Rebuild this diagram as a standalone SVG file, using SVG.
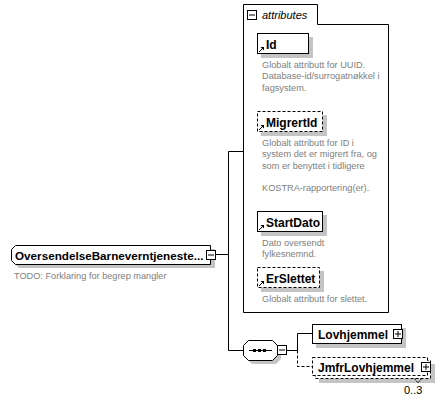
<svg xmlns="http://www.w3.org/2000/svg" width="445" height="403" viewBox="0 0 445 403">
  <defs>
    <style>
      .box{fill:#fff;stroke:#000;stroke-width:1}
      .dash{stroke-dasharray:3,2}
      .shadow{fill:#c4c4c4;stroke:none}
      .name{font-family:"Liberation Sans",Arial,sans-serif;font-weight:bold;font-size:12px;fill:#000}
      .doc{font-family:"Liberation Sans",Arial,sans-serif;font-size:9.2px;fill:#808080}
      .line{stroke:#000;stroke-width:1;fill:none}
      .btn{fill:#fff;stroke:#000;stroke-width:1}
      .occ{font-family:"Liberation Sans",Arial,sans-serif;font-size:11px;fill:#000}
    </style>
    <!-- small reference arrow drawn in the bottom-left corner of an attribute box -->
    <g id="refArrow">
      <path d="M0,5 L4,1" stroke="#000" stroke-width="1" fill="none"/>
      <path d="M1.5,0 L5,0 L5,3.5 Z" fill="#000"/>
    </g>
  </defs>

  <!-- connectors -->
  <g id="connectors">
    <path class="line" d="M215.5,254.5 H228.5"/>
    <path class="line" d="M228.5,151.5 V350.5"/>
    <path class="line" d="M228.5,151.5 H243.5"/>
    <path class="line" d="M228.5,350.5 H243.5"/>
    <path class="line" d="M286.5,350.5 H297.5 V333.5 H312.5"/>
    <path class="line dash" d="M297.5,350.5 V366.5 H312.5"/>
  </g>

  <!-- root element -->
  <g id="OversendelseBarneverntjeneste">
    <path class="shadow" d="M19,249 H215 V268 H19 L15,264 V253 Z"/>
    <path class="box" d="M15.5,245.5 H210.5 V264.5 H15.5 L11.5,260.5 V249.5 Z"/>
    <text class="name" x="15" y="259.5" style="font-size:11.7px">OversendelseBarneverntjeneste...</text>
    <rect class="btn" x="206.5" y="250.5" width="9" height="9"/>
    <path class="line" d="M208,255 H214"/>
    <text class="doc" x="14" y="279">TODO: Forklaring for begrep mangler</text>
  </g>

  <!-- attribute group -->
  <g id="attributes">
    <path class="box" d="M243.5,312.5 V4.5 H317.5 V24.5 H388.5 V312.5 Z"/>
    <rect class="btn" x="247.5" y="10.5" width="9" height="9"/>
    <path class="line" d="M249,15 H255"/>
    <text x="262" y="19" style="font-family:'Liberation Sans',Arial,sans-serif;font-style:italic;font-size:11px;fill:#000">attributes</text>
  </g>

  <g id="attr-Id">
    <rect class="shadow" x="261" y="37" width="52" height="21"/>
    <rect class="box" x="257.5" y="33.5" width="51" height="20"/>
    <use href="#refArrow" x="259" y="47"/>
    <text class="name" x="266" y="48.5">Id</text>
    <text class="doc" x="262" y="67.5">Globalt attributt for UUID.</text>
    <text class="doc" x="262" y="79">Database-id/surrogatnøkkel i</text>
    <text class="doc" x="262" y="90.5">fagsystem.</text>
  </g>

  <g id="attr-MigrertId">
    <rect class="shadow" x="261" y="115" width="66" height="21"/>
    <rect class="box dash" x="257.5" y="111.5" width="65" height="20"/>
    <use href="#refArrow" x="259" y="125"/>
    <text class="name" x="266" y="126.5">MigrertId</text>
    <text class="doc" x="262" y="146">Globalt attributt for ID i</text>
    <text class="doc" x="262" y="157.3">system det er migrert fra, og</text>
    <text class="doc" x="262" y="168.6">som er benyttet i tidligere</text>
    <text class="doc" x="262" y="191.2">KOSTRA-rapportering(er).</text>
  </g>

  <g id="attr-StartDato">
    <rect class="shadow" x="261" y="215" width="66" height="21"/>
    <rect class="box" x="257.5" y="211.5" width="65" height="20"/>
    <use href="#refArrow" x="259" y="225"/>
    <text class="name" x="266" y="226.5">StartDato</text>
    <text class="doc" x="262" y="246">Dato oversendt</text>
    <text class="doc" x="262" y="257.3">fylkesnemnd.</text>
  </g>

  <g id="attr-ErSlettet">
    <rect class="shadow" x="261" y="271" width="63" height="21"/>
    <rect class="box dash" x="257.5" y="267.5" width="62" height="20"/>
    <use href="#refArrow" x="259" y="281"/>
    <text class="name" x="266" y="282.5">ErSlettet</text>
    <text class="doc" x="262" y="302">Globalt attributt for slettet.</text>
  </g>

  <!-- sequence compositor -->
  <g id="sequence">
    <path class="shadow" d="M252,344 H276 L281,349 V359 L276,364 H252 L247,359 V349 Z"/>
    <path class="box" d="M248.5,340.5 H272.5 L277.5,345.5 V355.5 L272.5,360.5 H248.5 L243.5,355.5 V345.5 Z"/>
    <path class="line" d="M249,350.5 H272"/>
    <rect x="253" y="349" width="3" height="3" fill="#000"/>
    <rect x="258" y="349" width="3" height="3" fill="#000"/>
    <rect x="263" y="349" width="3" height="3" fill="#000"/>
    <rect class="btn" x="277.5" y="345.5" width="9" height="9"/>
    <path class="line" d="M279,350 H285"/>
  </g>

  <g id="Lovhjemmel">
    <rect class="shadow" x="316" y="328" width="90" height="20"/>
    <rect class="box" x="312.5" y="324.5" width="89" height="19"/>
    <text class="name" x="318" y="339">Lovhjemmel</text>
    <rect class="btn" x="393.5" y="329.5" width="9" height="9"/>
    <path class="line" d="M395,334 H401 M398,331 V337"/>
  </g>

  <g id="JmfrLovhjemmel">
    <rect class="shadow" x="319" y="364" width="116" height="19"/>
    <rect class="box dash" x="315.5" y="360.5" width="115" height="18"/>
    <rect class="box dash" x="312.5" y="357.5" width="115" height="18"/>
    <text class="name" x="318" y="372">JmfrLovhjemmel</text>
    <rect class="btn" x="421.5" y="362.5" width="9" height="9"/>
    <path class="line" d="M423,367 H429 M426,364 V370"/>
    <path class="line dash" d="M414.5,378.5 L418,383 L421.5,378.5" style="stroke-dasharray:2,1"/>
    <text class="occ" x="404" y="394">0..3</text>
  </g>
</svg>
